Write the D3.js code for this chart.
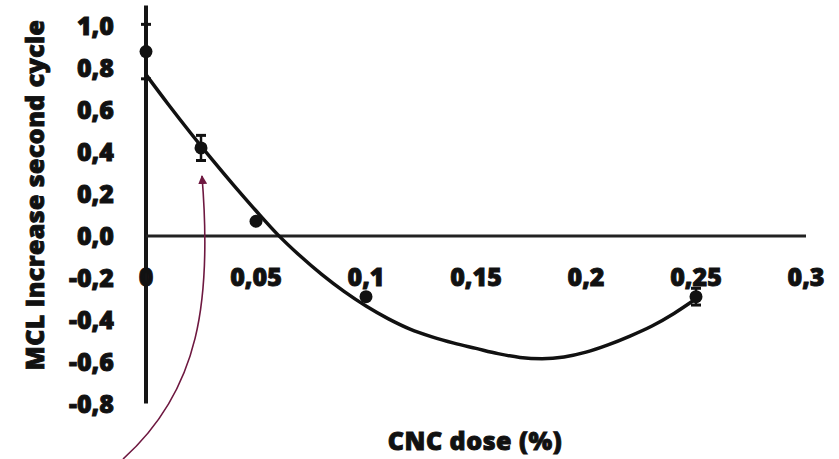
<!DOCTYPE html>
<html>
<head>
<meta charset="utf-8">
<script src="https://cdn.jsdelivr.net/npm/d3@7"></script>
<style>
	html, body { margin: 0; padding: 0; background: #fff; }
	#chart { width: 839px; height: 459px; }
	text { font-family: "Open Sans", "Liberation Sans", sans-serif; font-weight: 800; fill: #111; stroke: #111; stroke-width: 0.9px; }
</style>
</head>
<body>
<div id="chart"></div>
<script>
var id = 'chart';

// measured points (CNC dose %, MCL increase)
var doses = [0, 0.025, 0.05, 0.1, 0.25];
var means = [0.88, 0.42, 0.07, -0.29, -0.29];
var errors = [0.13, 0.06, 0.0, 0.0, 0.04];

// fitted trend line
var fitX = [0, 0.01, 0.02, 0.03, 0.04, 0.05, 0.06, 0.07, 0.08, 0.09, 0.1, 0.11, 0.12, 0.13,
	0.14, 0.15, 0.16, 0.17, 0.18, 0.19, 0.2, 0.21, 0.22, 0.23, 0.24, 0.25];
var fitY = [0.77, 0.63, 0.495, 0.365, 0.24, 0.12, 0.005, -0.095, -0.185, -0.265, -0.335, -0.395,
	-0.445, -0.482, -0.512, -0.537, -0.562, -0.58, -0.586, -0.578, -0.555, -0.52, -0.478, -0.43, -0.37, -0.3];

var xTicks = [0, 0.05, 0.1, 0.15, 0.2, 0.25, 0.3];
var xTickLabels = ['0', '0,05', '0,1', '0,15', '0,2', '0,25', '0,3'];
var yTicks = [-0.8, -0.6, -0.4, -0.2, 0, 0.2, 0.4, 0.6, 0.8, 1.0];
var yTickLabels = ['-0,8', '-0,6', '-0,4', '-0,2', '0,0', '0,2', '0,4', '0,6', '0,8', '1,0'];

var width = 839, height = 459;

var svg = d3.select('#' + id)
	.append('svg')
	.attr('width', width)
	.attr('height', height)
	.attr('id', id + '_svg');

var x = d3.scaleLinear().domain([0, 0.3]).range([146, 806]);
var y = d3.scaleLinear().domain([-0.8, 1.1]).range([403.5, 5.5]);

// y axis line + labels
svg.append('line')
	.attr('x1', x(0)).attr('x2', x(0))
	.attr('y1', y(-0.8)).attr('y2', y(1.1))
	.style('stroke', '#151515')
	.style('stroke-width', 4);

svg.selectAll('.ylab').data(yTicks).enter().append('text')
	.attr('class', 'ylab')
	.attr('x', 114)
	.attr('y', function(d) { return y(d); })
	.attr('dy', '0.36em')
	.attr('text-anchor', 'end')
	.style('font-size', '25px')
	.text(function(d, i) { return yTickLabels[i]; });

// x axis line at zero + labels
svg.append('line')
	.attr('x1', x(0)).attr('x2', x(0.3))
	.attr('y1', y(0)).attr('y2', y(0))
	.style('stroke', '#222')
	.style('stroke-width', 3);

svg.selectAll('.xlab').data(xTicks).enter().append('text')
	.attr('class', 'xlab')
	.attr('x', function(d) { return x(d); })
	.attr('y', y(0) + 41)
	.attr('dy', '0.36em')
	.attr('text-anchor', 'middle')
	.style('font-size', '25px')
	.text(function(d, i) { return xTickLabels[i]; });

// trend line
var line = d3.line()
	.x(function(d) { return x(d[0]); })
	.y(function(d) { return y(d[1]); })
	.curve(d3.curveMonotoneX);

svg.append('path')
	.datum(fitX.map(function(v, i) { return [v, fitY[i]]; }))
	.attr('d', line)
	.style('fill', 'none')
	.style('stroke', '#111')
	.style('stroke-width', 3.5);

// error bars
var pts = doses.map(function(v, i) { return { x: v, y: means[i], e: errors[i] }; });
var bars = svg.selectAll('.err').data(pts.filter(function(d) { return d.e > 0; })).enter().append('g')
	.attr('class', 'err');
bars.append('line')
	.attr('x1', function(d) { return x(d.x); })
	.attr('x2', function(d) { return x(d.x); })
	.attr('y1', function(d) { return y(d.y - d.e); })
	.attr('y2', function(d) { return y(d.y + d.e); })
	.style('stroke', '#111')
	.style('stroke-width', 2.5);
bars.selectAll('.cap').data(function(d) { return [[d.x, d.y - d.e], [d.x, d.y + d.e]]; })
	.enter().append('line')
	.attr('x1', function(d) { return x(d[0]) - 5; })
	.attr('x2', function(d) { return x(d[0]) + 5; })
	.attr('y1', function(d) { return y(d[1]); })
	.attr('y2', function(d) { return y(d[1]); })
	.style('stroke', '#111')
	.style('stroke-width', 3);

// markers
svg.selectAll('.circle').data(pts).enter().append('circle')
	.attr('class', 'circle')
	.attr('cx', function(d) { return x(d.x); })
	.attr('cy', function(d) { return y(d.y); })
	.attr('r', 6.5)
	.style('fill', '#111');

// axis titles
svg.append('text')
	.attr('x', 475)
	.attr('y', 441)
	.attr('dy', '0.36em')
	.attr('text-anchor', 'middle')
	.style('font-size', '25px')
	.style('letter-spacing', '0.5px')
	.text('CNC dose (%)');

svg.append('text')
	.attr('transform', 'translate(35,195) rotate(-90)')
	.attr('dy', '0.36em')
	.attr('text-anchor', 'middle')
	.style('font-size', '25px')
	.style('letter-spacing', '0.4px')
	.text('MCL Increase second cycle');

// annotation arrow
var maroon = '#6e1840';
svg.append('defs').append('marker')
	.attr('id', 'arrowhead')
	.attr('viewBox', '0 0 10 10')
	.attr('refX', 9).attr('refY', 5)
	.attr('markerWidth', 9).attr('markerHeight', 9)
	.attr('markerUnits', 'userSpaceOnUse')
	.attr('orient', 'auto')
	.append('path')
	.attr('d', 'M0,0L10,5L0,10Z')
	.style('fill', maroon);

svg.append('path')
	.attr('d', 'M123,459C200,390 212,300 202,176')
	.style('fill', 'none')
	.style('stroke', maroon)
	.style('stroke-width', 1.6)
	.attr('marker-end', 'url(#arrowhead)');
</script>
</body>
</html>
